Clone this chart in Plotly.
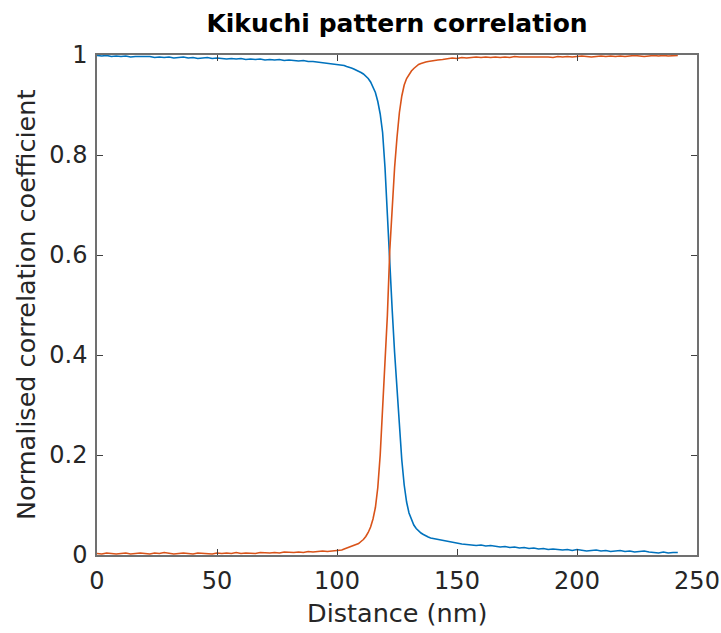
import plotly.graph_objects as go

# Distance (nm) sample positions
distance_nm = [
    0, 2, 4, 6, 8, 10, 12, 14, 16, 18, 20, 22, 24, 26, 28, 30, 32, 34, 36, 38,
    40, 42, 44, 46, 48, 50, 52, 54, 56, 58, 60, 62, 64, 66, 68, 70, 72, 74, 76, 78,
    80, 82, 84, 86, 88, 90, 92, 94, 96, 98, 100,
    101, 102, 103, 104, 105, 106, 107, 108, 109, 110, 111, 112, 113, 114, 115, 116, 117, 118, 119, 120,
    121, 122, 123, 124, 125, 126, 127, 128, 129, 130, 131, 132, 133, 134, 135, 136, 137, 138, 139, 140,
    142, 144, 146, 148, 150, 152, 154, 156, 158, 160, 162, 164, 166, 168, 170, 172, 174, 176, 178, 180,
    182, 184, 186, 188, 190, 192, 194, 196, 198, 200, 202, 204, 206, 208, 210, 212, 214, 216, 218, 220,
    222, 224, 226, 228, 230, 232, 234, 236, 238, 240, 242,
]

# Correlation with the first (left) pattern
corr_blue = [
    0.999, 0.998, 0.999, 0.997, 0.998, 0.997, 0.998, 0.996, 0.997, 0.997,
    0.996, 0.997, 0.995, 0.996, 0.995, 0.996, 0.994, 0.995, 0.996, 0.994,
    0.995, 0.993, 0.994, 0.995, 0.993, 0.994, 0.993, 0.992, 0.993, 0.992,
    0.993, 0.991, 0.992, 0.991, 0.992, 0.990, 0.991, 0.990, 0.991, 0.989,
    0.990, 0.989, 0.988, 0.989, 0.987, 0.987, 0.986, 0.985, 0.984, 0.983,
    0.982,
    0.981, 0.980, 0.979, 0.977, 0.976, 0.974, 0.972, 0.970, 0.968, 0.965,
    0.962, 0.958, 0.953, 0.946, 0.937, 0.925, 0.907, 0.882, 0.845, 0.775,
    0.680, 0.575, 0.490, 0.405, 0.325, 0.255, 0.190, 0.140, 0.106, 0.084,
    0.070, 0.060, 0.053, 0.048, 0.044, 0.041, 0.038, 0.036, 0.034, 0.033,
    0.031, 0.029, 0.027, 0.025, 0.024, 0.022, 0.021, 0.020, 0.019, 0.020,
    0.018, 0.019, 0.017, 0.016, 0.017, 0.015, 0.016, 0.014, 0.015, 0.013,
    0.014, 0.012, 0.013, 0.011, 0.012, 0.011, 0.010, 0.011, 0.009, 0.011,
    0.010, 0.008, 0.009, 0.010, 0.008, 0.009, 0.007, 0.008, 0.009, 0.007,
    0.008, 0.006, 0.007, 0.008, 0.006, 0.005, 0.004, 0.006, 0.004, 0.005,
    0.005,
]

# Correlation with the second (right) pattern
corr_red = [
    0.003, 0.002, 0.004, 0.003, 0.002, 0.003, 0.004, 0.002, 0.003, 0.004,
    0.003, 0.002, 0.004, 0.003, 0.005, 0.003, 0.002, 0.003, 0.004, 0.003,
    0.002, 0.004, 0.003, 0.003, 0.002, 0.004, 0.003, 0.004, 0.003, 0.005,
    0.003, 0.004, 0.004, 0.003, 0.005, 0.004, 0.004, 0.005, 0.004, 0.006,
    0.005, 0.005, 0.006, 0.005, 0.007, 0.006, 0.007, 0.008, 0.007, 0.008,
    0.009,
    0.009, 0.010, 0.012, 0.014, 0.015, 0.017, 0.019, 0.021, 0.023, 0.027,
    0.031, 0.037, 0.045, 0.056, 0.072, 0.095, 0.135, 0.200, 0.290, 0.380,
    0.480, 0.610, 0.700, 0.775, 0.835, 0.885, 0.918, 0.940, 0.953, 0.962,
    0.968, 0.973, 0.977, 0.981, 0.983, 0.985, 0.986, 0.987, 0.988, 0.989,
    0.990, 0.991, 0.993, 0.994, 0.993, 0.995, 0.994, 0.995, 0.996, 0.995,
    0.996, 0.995, 0.996, 0.995, 0.996, 0.995, 0.997, 0.996, 0.996, 0.997,
    0.996, 0.997, 0.997, 0.996, 0.995, 0.997, 0.996, 0.997, 0.996, 0.997,
    0.998, 0.997, 0.996, 0.997, 0.998, 0.997, 0.998, 0.997, 0.998, 0.997,
    0.998, 0.999, 0.998, 0.997, 0.998, 0.999, 0.998, 0.999, 0.998, 0.999,
    0.999,
]

x_ticks = [0, 50, 100, 150, 200, 250]
y_ticks = [0, 0.2, 0.4, 0.6, 0.8, 1]
y_tick_text = ["0", "0.2", "0.4", "0.6", "0.8", "1"]

FONT = "DejaVu Sans, Verdana, sans-serif"

fig = go.Figure()
fig.add_trace(go.Scatter(x=distance_nm, y=corr_blue, mode="lines",
                         line=dict(color="#0072BD", width=1.6), showlegend=False))
fig.add_trace(go.Scatter(x=distance_nm, y=corr_red, mode="lines",
                         line=dict(color="#D95319", width=1.6), showlegend=False))

axis_common = dict(
    showgrid=False, zeroline=False, showline=True, mirror="all",
    linecolor="#707070", linewidth=1.5, ticks="inside", ticklen=6,
    tickcolor="#404040", tickwidth=1,
    tickfont=dict(family=FONT, size=24, color="#262626"),
)

fig.update_layout(
    width=721, height=633,
    margin=dict(l=97, r=24, t=55, b=78, autoexpand=False),
    paper_bgcolor="white", plot_bgcolor="white",
    title=dict(text="<b>Kikuchi pattern correlation</b>",
               font=dict(family=FONT, size=25, color="black"),
               x=0.5, xref="paper", xanchor="center",
               y=1 - 23 / 633, yref="container", yanchor="middle"),
    xaxis=dict(range=[0, 250], tickvals=x_ticks, ticklabelstandoff=3, **axis_common),
    yaxis=dict(range=[0, 1], tickvals=y_ticks, ticktext=y_tick_text,
               ticklabelstandoff=3, **axis_common),
    annotations=[
        dict(text="Distance (nm)", xref="paper", yref="paper", x=0.5, y=0,
             xanchor="center", yanchor="middle", yshift=-58, showarrow=False,
             font=dict(family=FONT, size=25.5, color="#262626")),
        dict(text="Normalised correlation coefficient", xref="paper", yref="paper",
             x=0, y=0.5, xanchor="center", yanchor="middle", xshift=-71,
             textangle=-90, showarrow=False,
             font=dict(family=FONT, size=25.5, color="#262626")),
    ],
)

fig.write_html(
    "out.html",
    config={"displayModeBar": False},
    post_script="document.body.style.margin='0';document.documentElement.style.overflow='hidden';",
)
